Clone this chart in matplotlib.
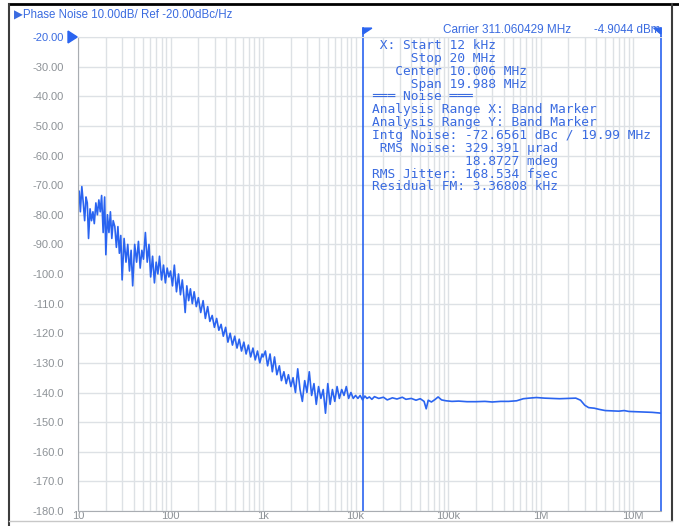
import matplotlib
matplotlib.use("Agg")
import matplotlib.pyplot as plt
from matplotlib.ticker import LogLocator, NullFormatter
from matplotlib.lines import Line2D

# phase noise trace, offset frequency (Hz) and level (dBc/Hz)
freq = [10, 10.3, 10.6, 11, 11.4, 11.8, 12.2, 12.6, 13, 13.5, 14, 14.5, 15, 15.6, 16.2,
        16.8, 17.4, 18, 18.7, 19.4, 20, 20.8, 21.6, 22.4, 23.2, 24, 25, 26, 27, 28, 29,
        30, 31.5, 33, 34.5, 36, 37.5, 39, 41, 43, 45, 47, 49, 51, 53.5, 56, 58.5, 61, 64,
        67, 70, 73, 76, 80, 84, 88, 92, 96, 100,
        105, 110, 116, 122, 128, 134, 140, 144, 150, 157, 164, 172, 180, 190, 200, 212,
        225, 238, 252, 266, 282, 298, 315, 333, 352, 372, 394, 417, 441, 467, 494, 523,
        553, 585, 620, 656, 694, 735, 778, 823, 871, 922, 976,
        1000, 1060, 1120, 1190, 1260, 1330, 1410, 1500, 1580, 1680, 1780, 1880, 2000,
        2110, 2240, 2370, 2510, 2660, 2820, 2980, 3160, 3350, 3550, 3760, 3980, 4220,
        4470, 4730, 5010, 5310, 5620, 5960, 6310, 6680, 7080, 7500, 7940, 8410, 8910,
        9440, 10000,
        10.6e3, 11.2e3, 11.9e3, 12.6e3, 13.3e3, 14.1e3, 15e3, 16e3, 17.8e3, 20e3, 22e3,
        25e3, 28e3, 32e3, 35e3, 40e3, 45e3, 50e3, 55e3, 58e3, 61e3, 66e3, 72e3, 78e3,
        85e3, 95e3, 110e3, 130e3, 160e3, 200e3, 250e3, 300e3, 370e3, 450e3, 550e3,
        650e3, 750e3, 900e3, 1.1e6, 1.3e6, 1.6e6, 2e6, 2.4e6, 2.7e6, 3.0e6, 3.3e6,
        3.8e6, 4.3e6, 5e6, 6e6, 7e6, 8e6, 9e6, 11e6, 13e6, 16e6, 19e6, 20e6]
noise = [-75, -72, -79, -70.5, -76, -82, -74, -76, -88, -78, -82, -79, -83, -76, -80,
         -75, -79, -73.5, -86, -74, -93.5, -80, -86, -79, -88, -82, -84, -91, -84, -93, -87,
         -102, -88, -96, -90, -99, -92, -104, -90, -96, -89, -98, -92, -95, -86, -96, -90,
         -101, -94, -103, -96, -100, -94, -102, -97, -103, -98, -101, -99,
         -104, -97, -106, -100, -107, -102, -108, -113, -104, -109, -105, -110, -106, -111,
         -108, -113, -109, -115, -111, -116, -114, -118, -115, -119, -117, -121, -118, -123,
         -120, -124, -121, -125, -122, -126, -123, -127, -124, -128, -125, -129, -126, -130,
         -127,
         -128, -126, -131, -127, -133, -128, -134, -131, -136, -133, -137, -134, -138,
         -135, -140, -132, -139, -143, -136, -140, -133, -141, -137, -144, -138, -142,
         -139, -147, -137, -144, -139, -143, -138, -142, -139, -141, -138, -142, -140,
         -142, -141,
         -142, -141, -142.5, -141.2, -142, -141.5, -142.3, -141.4, -142, -141.6, -142.5,
         -141.8, -142.2, -141.6, -142.3, -142, -142.6, -142.1, -143, -145.5, -142.6,
         -143.2, -142.4, -141.5, -142.5, -142.8, -143, -142.9, -143.1, -143.1, -143,
         -143.2, -143, -143, -142.8, -142.1, -141.9, -141.7, -141.9, -142, -142.1, -142,
         -141.9, -142.6, -144.3, -145.1, -145.3, -145.7, -146.1, -146.2, -146.3, -146.1,
         -146.4, -146.5, -146.6, -146.7, -146.9, -147]

x_ticks = [10, 100, 1e3, 1e4, 1e5, 1e6, 1e7]
x_labels = ["10", "100", "1k", "10k", "100k", "1M", "10M"]
y_ticks = list(range(-180, -10, 10))
y_labels = ["-180.0", "-170.0", "-160.0", "-150.0", "-140.0", "-130.0", "-120.0",
            "-110.0", "-100.0", "-90.00", "-80.00", "-70.00", "-60.00", "-50.00",
            "-40.00", "-30.00", "-20.00"]

marker_f = 12e3
stop_f = 20e6

info_lines = [
    " X: Start 12 kHz",
    "     Stop 20 MHz",
    "   Center 10.006 MHz",
    "     Span 19.988 MHz",
    "═══ Noise ═══",
    "Analysis Range X: Band Marker",
    "Analysis Range Y: Band Marker",
    "Intg Noise: -72.6561 dBc / 19.99 MHz",
    " RMS Noise: 329.391 µrad",
    "            18.8727 mdeg",
    "RMS Jitter: 168.534 fsec",
    "Residual FM: 3.36808 kHz",
]

blue = "#2a64f0"
txt_blue = "#3a6be0"
grey = "#8d9297"
grid_c = "#dde1e5"
sans = ["Liberation Sans", "DejaVu Sans"]

fig = plt.figure(figsize=(6.79, 5.26), dpi=100)
W, H = 679, 526
ax = fig.add_axes([78 / W, 1 - 511 / H, (661 - 78) / W, (511 - 37) / H])

ax.plot(freq, noise, color=blue, lw=1.2)
ax.set_xscale("log")
ax.set_xlim(10, stop_f)
ax.set_ylim(-180, -20)

ax.set_xticks(x_ticks)
ax.set_xticklabels(x_labels)
ax.xaxis.set_minor_locator(LogLocator(base=10, subs=range(2, 10), numticks=20))
ax.xaxis.set_minor_formatter(NullFormatter())
ax.set_yticks(y_ticks)
ax.set_yticklabels(y_labels)
ax.grid(True, which="both", color=grid_c, lw=1.0)
ax.set_axisbelow(True)
ax.tick_params(which="both", length=0)
ax.tick_params(axis="y", pad=10, labelsize=8, labelcolor=grey)
ax.tick_params(axis="x", pad=0, labelsize=8, labelcolor=grey)
for lab in ax.get_xticklabels() + ax.get_yticklabels():
    lab.set_family(sans)
ax.get_yticklabels()[-1].set_color(txt_blue)

for s in ["left", "bottom"]:
    ax.spines[s].set_color("#a9adb2")
ax.spines["top"].set_color(grid_c)
ax.spines["right"].set_color(blue)
ax.spines["right"].set_linewidth(1.2)

# band marker lines and flags
ax.plot([marker_f, marker_f], [-180, -17], color=blue, lw=1.2, clip_on=False)
ax.plot([stop_f, stop_f], [-20, -17], color=blue, lw=1.2, clip_on=False)
ax.fill([marker_f, marker_f * 1.25, marker_f], [-17, -17, -19], color=blue, clip_on=False)
ax.fill([stop_f, stop_f / 1.2, stop_f], [-17, -17, -19], color=blue, clip_on=False)
ax.fill([7.8, 9.8, 7.8], [-18, -20, -22], color=blue, clip_on=False)

# header texts
fig.text(14 / W, 1 - 15 / H, "▶Phase Noise 10.00dB/ Ref -20.00dBc/Hz", color=txt_blue,
         fontsize=8.3, family=sans, va="center")
fig.text(571 / W, 1 - 30 / H, "Carrier 311.060429 MHz", color=txt_blue,
         fontsize=8.5, family=sans, va="center", ha="right")
fig.text(660 / W, 1 - 30 / H, "-4.9044 dBm", color=txt_blue,
         fontsize=8.3, family=sans, va="center", ha="right")

for i, line in enumerate(info_lines):
    fig.text(372 / W, 1 - (45.5 + i * 12.85) / H, line, color=txt_blue, fontsize=9.3,
             family="DejaVu Sans Mono", va="center")

# window frame
fig.add_artist(Line2D([9 / W, 1], [1 - 4 / H, 1 - 4 / H], color="black", lw=2))
fig.add_artist(Line2D([9 / W, 9 / W], [0, 1 - 4 / H], color="#3c3c3c", lw=1.5))
fig.add_artist(Line2D([672 / W, 672 / W], [1 - 520 / H, 1 - 4 / H], color="#3c3c3c", lw=1.5))
fig.add_artist(Line2D([9 / W, 672 / W], [1 - 521 / H, 1 - 521 / H], color="#c8c8c8", lw=1))

fig.savefig("out.png", dpi=100)
